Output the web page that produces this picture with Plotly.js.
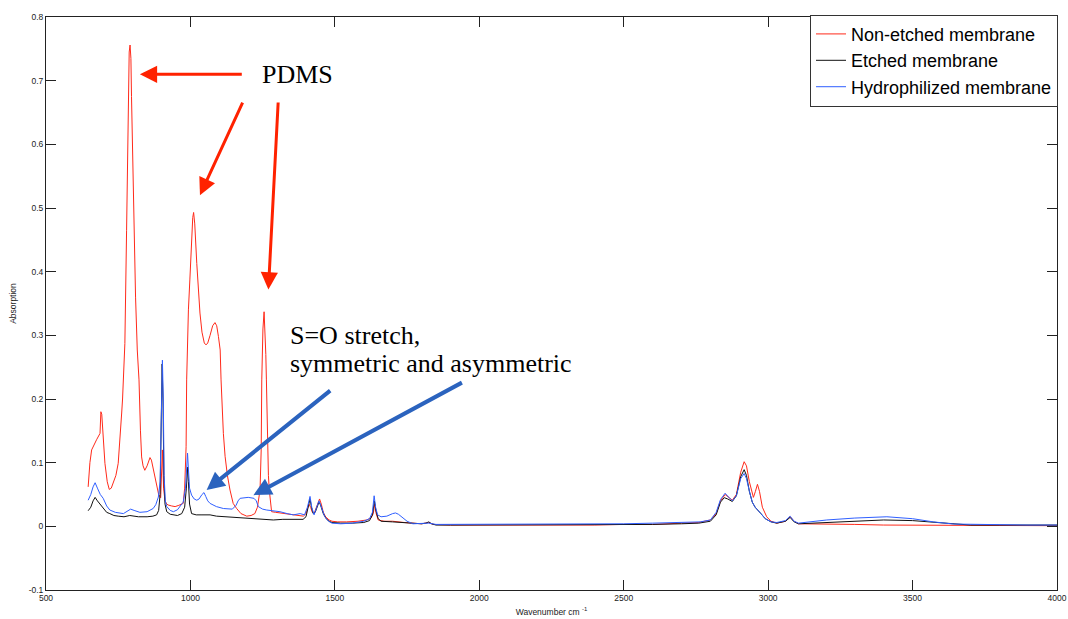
<!DOCTYPE html>
<html>
<head>
<meta charset="utf-8">
<script src="https://cdn.plot.ly/plotly-3.0.1.min.js"></script>
<style>html,body{margin:0;padding:0;background:#fff;}#chart{width:1068px;height:619px;}</style>
</head>
<body>
<div id="chart"></div>
<script>
// Series names
const seriesNames = ["Non-etched membrane", "Etched membrane", "Hydrophilized membrane"];

// Non-etched membrane (wavenumber, absorption)
const nonEtchedX = [646,652,658,668,675,687,690,693,696,704,712,719,726,733,742,750,755,759,762,765,768,773,779,784,788,791,794,796,802,810,816,822,827,831,836,842,850,856,860,865,872,878,883,890,897,903,907,912,918,923,935,947,960,970,975,980,985,987,989,993,998,1004,1008,1011,1015,1022,1028,1033,1040,1048,1054,1060,1068,1077,1085,1091,1097,1103,1106,1110,1114,1120,1128,1137,1148,1160,1175,1195,1210,1223,1232,1241,1245,1247,1251,1255,1258,1261,1263,1267,1270,1273,1277,1281,1295,1310,1330,1356,1375,1391,1400,1410,1416,1422,1428,1436,1442,1447,1453,1460,1468,1480,1490,1510,1540,1580,1610,1625,1633,1638,1643,1650,1670,1700,1740,1770,1800,1825,1840,1900,2000,2100,2200,2300,2400,2500,2600,2700,2760,2800,2820,2835,2851,2865,2876,2890,2905,2917,2925,2935,2945,2949,2956,2963,2970,2980,2995,3010,3030,3060,3076,3090,3105,3200,3300,3400,3500,3600,3700,3800,3900,4000];
const nonEtchedY = [0.062,0.10,0.12,0.13,0.136,0.146,0.18,0.176,0.15,0.099,0.07,0.058,0.06,0.0675,0.08,0.099,0.14,0.172,0.178,0.2,0.23,0.287,0.465,0.675,0.745,0.756,0.735,0.675,0.518,0.36,0.277,0.23,0.15,0.109,0.095,0.088,0.095,0.105,0.108,0.104,0.088,0.075,0.062,0.05,0.045,0.12,0.06,0.04,0.035,0.0335,0.032,0.031,0.033,0.035,0.036,0.06,0.125,0.23,0.285,0.34,0.387,0.45,0.485,0.493,0.475,0.413,0.37,0.335,0.305,0.288,0.285,0.288,0.30,0.315,0.32,0.315,0.298,0.277,0.23,0.18,0.146,0.11,0.08,0.057,0.036,0.028,0.02,0.016,0.017,0.020,0.03,0.057,0.12,0.23,0.31,0.337,0.31,0.27,0.23,0.13,0.08,0.057,0.035,0.023,0.022,0.021,0.02,0.018,0.017,0.016,0.02,0.035,0.03,0.022,0.02,0.03,0.04,0.043,0.035,0.022,0.015,0.01,0.008,0.007,0.007,0.008,0.01,0.013,0.02,0.035,0.02,0.01,0.008,0.008,0.006,0.005,0.004,0.006,0.003,0.002,0.002,0.001,0.002,0.002,0.002,0.003,0.003,0.005,0.006,0.01,0.02,0.04,0.05,0.045,0.041,0.05,0.085,0.1015,0.095,0.07,0.05,0.0455,0.055,0.066,0.055,0.03,0.015,0.008,0.005,0.008,0.015,0.008,0.004,0.004,0.003,0.002,0.002,0.002,0.002,0.001,0.002,0.001];

// Etched membrane
const etchedX = [646,655,663,670,678,688,698,710,721,735,750,770,790,800,820,850,870,883,890,895,899,902,905,908,912,918,930,941,955,970,980,986,990,993,997,1004,1020,1040,1068,1090,1120,1150,1195,1230,1260,1287,1320,1350,1370,1390,1400,1408,1414,1419,1425,1432,1440,1445,1450,1460,1470,1480,1490,1520,1560,1600,1620,1630,1637,1642,1650,1660,1700,1740,1760,1800,1815,1825,1835,1850,1900,2000,2100,2200,2300,2400,2500,2600,2700,2760,2800,2820,2835,2848,2860,2876,2890,2905,2917,2925,2935,2945,2955,2962,2975,2990,3010,3030,3060,3076,3090,3105,3150,3200,3300,3400,3500,3560,3620,3660,3700,3800,3900,4000];
const etchedY = [0.0245,0.03,0.04,0.0455,0.04,0.034,0.028,0.022,0.020,0.017,0.016,0.015,0.017,0.016,0.015,0.015,0.016,0.018,0.025,0.05,0.15,0.255,0.2,0.08,0.035,0.023,0.019,0.018,0.017,0.02,0.03,0.06,0.093,0.07,0.035,0.020,0.018,0.018,0.018,0.016,0.015,0.014,0.0126,0.012,0.011,0.010,0.011,0.011,0.010,0.011,0.015,0.03,0.043,0.03,0.02,0.022,0.033,0.038,0.034,0.02,0.012,0.008,0.006,0.005,0.005,0.006,0.009,0.018,0.04,0.025,0.012,0.008,0.007,0.006,0.005,0.004,0.005,0.007,0.004,0.002,0.002,0.002,0.002,0.002,0.002,0.002,0.003,0.003,0.004,0.005,0.008,0.018,0.038,0.045,0.043,0.039,0.048,0.078,0.089,0.08,0.055,0.038,0.03,0.027,0.02,0.012,0.007,0.005,0.008,0.014,0.007,0.004,0.005,0.006,0.008,0.010,0.009,0.007,0.004,0.003,0.002,0.002,0.002,0.002];

// Hydrophilized membrane
const hydroX = [646,655,663,670,678,688,698,710,721,740,768,785,793,805,825,850,871,880,889,895,899,903,906,909,913,918,930,941,955,964,975,983,987,990,993,997,1004,1013,1022,1030,1040,1047,1053,1060,1068,1090,1114,1145,1158,1165,1172,1185,1200,1220,1228,1235,1250,1264,1290,1310,1335,1356,1380,1395,1405,1414,1420,1428,1437,1445,1452,1465,1478,1490,1520,1560,1600,1620,1630,1636,1641,1648,1660,1680,1700,1710,1720,1735,1750,1770,1800,1825,1850,1900,2000,2100,2200,2300,2400,2500,2600,2700,2765,2800,2820,2835,2851,2865,2876,2890,2905,2917,2925,2935,2945,2955,2962,2975,2990,3010,3030,3060,3076,3090,3105,3150,3203,3300,3411,3500,3572,3642,3700,3800,3900,4000];
const hydroY = [0.041,0.05,0.062,0.0685,0.06,0.05,0.044,0.032,0.0256,0.022,0.020,0.024,0.027,0.025,0.022,0.023,0.028,0.034,0.046,0.07,0.17,0.261,0.2,0.08,0.04,0.031,0.025,0.023,0.026,0.031,0.038,0.06,0.09,0.115,0.09,0.06,0.049,0.043,0.041,0.043,0.05,0.053,0.047,0.04,0.036,0.031,0.028,0.027,0.033,0.04,0.044,0.045,0.0455,0.044,0.04,0.031,0.027,0.0256,0.024,0.023,0.02,0.018,0.02,0.018,0.03,0.047,0.03,0.018,0.03,0.04,0.032,0.015,0.008,0.005,0.004,0.005,0.008,0.012,0.022,0.048,0.03,0.018,0.015,0.016,0.02,0.021,0.019,0.013,0.008,0.004,0.004,0.005,0.003,0.003,0.003,0.003,0.003,0.003,0.003,0.004,0.005,0.006,0.007,0.01,0.022,0.042,0.052,0.045,0.04,0.048,0.075,0.083,0.075,0.055,0.038,0.03,0.027,0.02,0.012,0.007,0.006,0.009,0.016,0.008,0.005,0.007,0.010,0.013,0.015,0.012,0.007,0.0036,0.003,0.002,0.002,0.002];

// Axis ticks
const xTicks = [500,1000,1500,2000,2500,3000,3500,4000];
const yTicks = [-0.1,0,0.1,0.2,0.3,0.4,0.5,0.6,0.7,0.8];

// Annotation labels
const pdmsLabel = "PDMS";
const soLabel1 = "S=O stretch,";
const soLabel2 = "symmetric and asymmetric";

const colors = ["#ff2a1a", "#111111", "#2f5fff"];

const traces = [
  {x: nonEtchedX, y: nonEtchedY, name: seriesNames[0]},
  {x: etchedX, y: etchedY, name: seriesNames[1]},
  {x: hydroX, y: hydroY, name: seriesNames[2]}
].map((t, i) => Object.assign(t, {type: "scatter", mode: "lines", line: {color: colors[i], width: 1}}));

const tickFont = {family: "Liberation Sans, Arial, sans-serif", size: 8.5, color: "#222"};
const serif = {family: "Liberation Serif, Times New Roman, serif", size: 26, color: "#000"};

function arrow(tipX, tipY, tailX, tailY, color, width, size) {
  return {x: tipX, y: tipY, ax: tailX, ay: tailY, xref: "x", yref: "y", axref: "x", ayref: "y",
    text: "", showarrow: true, arrowhead: 2, arrowwidth: width, arrowsize: size, arrowcolor: color, standoff: 0};
}

const layout = {
  width: 1068, height: 619, autosize: false,
  margin: {l: 46, r: 11, t: 17, b: 29, autoexpand: false},
  paper_bgcolor: "#fff", plot_bgcolor: "#fff",
  showlegend: true,
  legend: {x: 0.7557, y: 1.004, xanchor: "left", yanchor: "top", bgcolor: "#fff",
    bordercolor: "#333", borderwidth: 1, itemwidth: 30, tracegroupgap: 0,
    font: {family: "Liberation Sans, Arial, sans-serif", size: 18, color: "#000"}},
  xaxis: {range: [500, 4000], tickvals: xTicks, ticktext: xTicks.map(String), ticks: "inside", ticklen: 10,
    tickcolor: "#222", showline: true, linecolor: "#222", linewidth: 1, mirror: "ticks", showgrid: false,
    zeroline: false, tickfont: tickFont, automargin: false,
    title: {text: "Wavenumber cm <sup>-1</sup>", font: {family: "Liberation Sans, Arial, sans-serif", size: 8.5, color: "#222"}, standoff: 6}},
  yaxis: {range: [-0.1, 0.8], tickvals: yTicks, ticktext: yTicks.map(v => v === 0 ? "0" : String(v)), ticks: "inside", ticklen: 10,
    tickcolor: "#222", showline: true, linecolor: "#222", linewidth: 1, mirror: "ticks", showgrid: false,
    zeroline: false, tickfont: tickFont, automargin: false,
    title: {text: "Absorption", font: {family: "Liberation Sans, Arial, sans-serif", size: 8.5, color: "#222"}, standoff: 10}},
  annotations: [
    {x: 1372, y: 0.709, xref: "x", yref: "y", text: pdmsLabel, showarrow: false, xanchor: "center", yanchor: "middle", font: serif},
    {x: 1338, y: 0.300, xref: "x", yref: "y", text: soLabel1, showarrow: false, xanchor: "left", yanchor: "middle", font: serif},
    {x: 1338, y: 0.255, xref: "x", yref: "y", text: soLabel2, showarrow: false, xanchor: "left", yanchor: "middle", font: serif},
    arrow(825, 0.710, 1183, 0.710, "#ff2200", 3, 1.15),
    arrow(1033, 0.520, 1183, 0.668, "#ff2200", 3, 1.15),
    arrow(1270, 0.372, 1304, 0.668, "#ff2200", 3, 1.15),
    arrow(1056, 0.057, 1489, 0.215, "#2b63be", 4, 0.9),
    arrow(1218, 0.049, 1945, 0.227, "#2b63be", 4, 0.9)
  ]
};

Plotly.newPlot("chart", traces, layout, {displayModeBar: false, staticPlot: true});
</script>
</body>
</html>
